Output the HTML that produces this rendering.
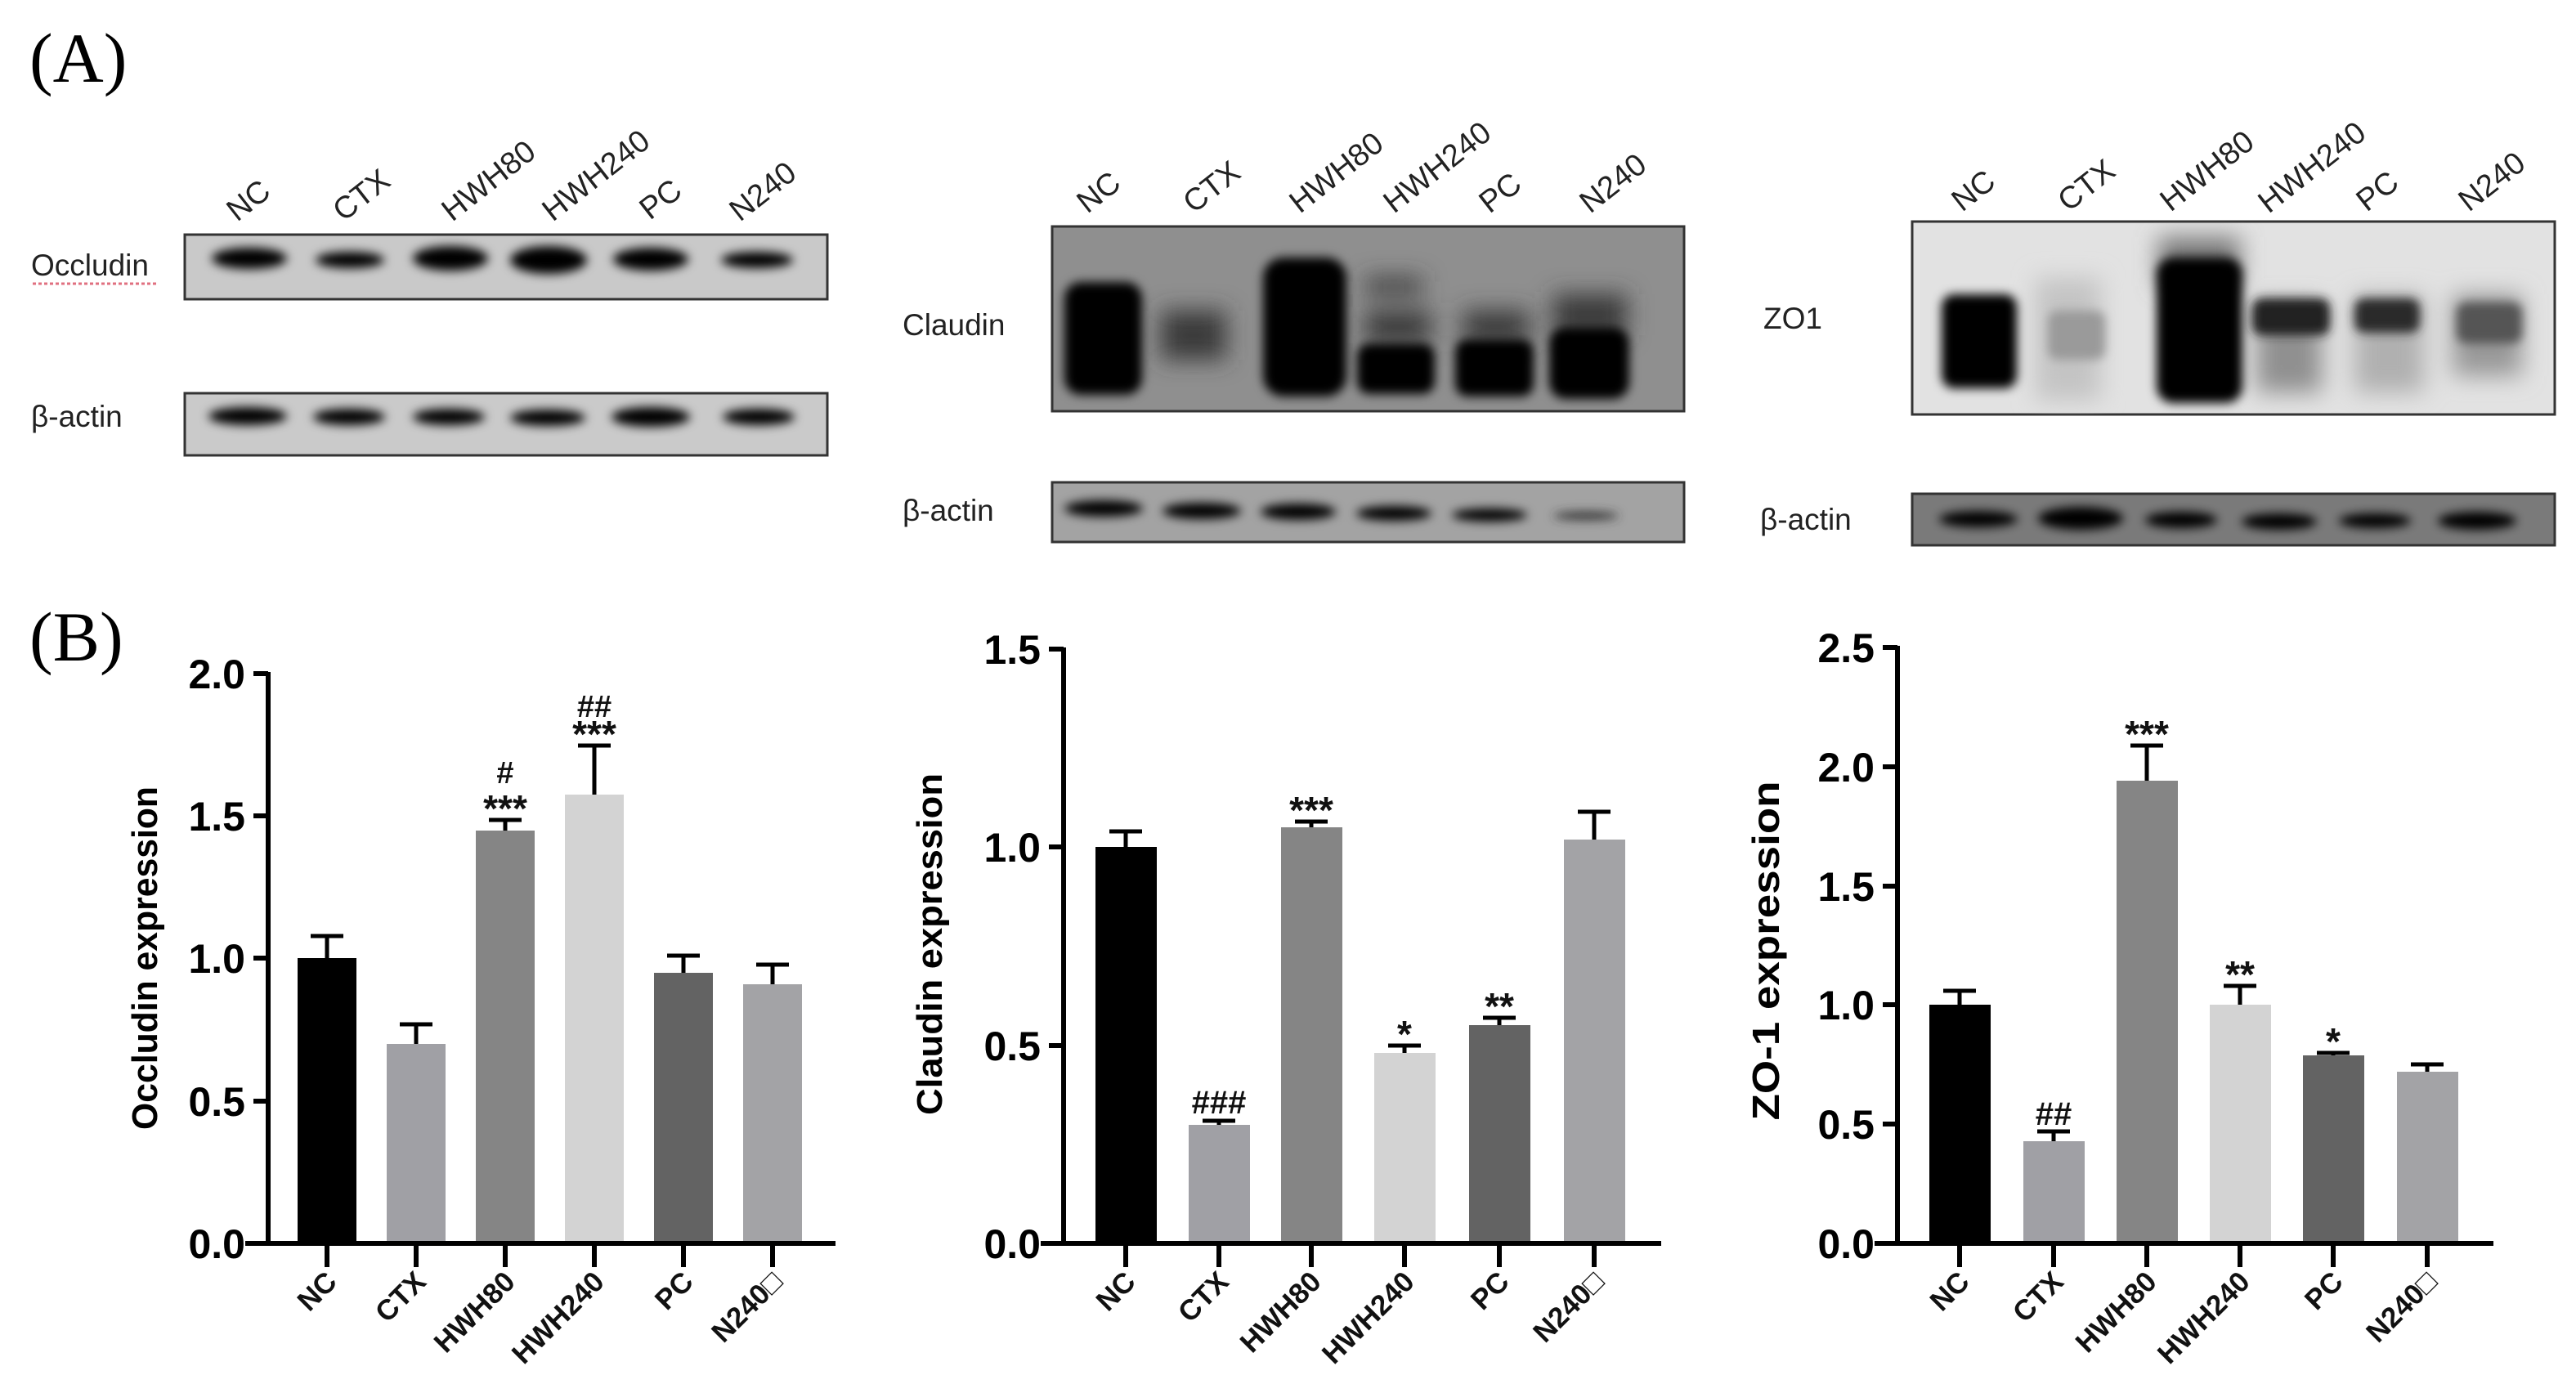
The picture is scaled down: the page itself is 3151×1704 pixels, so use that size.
<!DOCTYPE html>
<html><head><meta charset="utf-8"><style>
html,body{margin:0;padding:0;background:#fff;}
svg{display:block;}
.s{font-family:"Liberation Sans",Arial,sans-serif;}
.b{font-weight:bold;}
.serif{font-family:"Liberation Serif","Times New Roman",serif;}
</style></head><body>
<svg width="3151" height="1704" viewBox="0 0 3151 1704" xmlns="http://www.w3.org/2000/svg">
<defs>
<filter id="bl" x="-50%" y="-50%" width="200%" height="200%"><feGaussianBlur stdDeviation="6"/></filter>
<filter id="bl2" x="-50%" y="-50%" width="200%" height="200%"><feGaussianBlur stdDeviation="14"/></filter>
<clipPath id="c1"><rect x="226" y="287" width="786" height="79"/></clipPath>
<clipPath id="c2"><rect x="226" y="481" width="786" height="76"/></clipPath>
<clipPath id="c3"><rect x="1287" y="277" width="773" height="226"/></clipPath>
<clipPath id="c4"><rect x="1287" y="590" width="773" height="73"/></clipPath>
<clipPath id="c5"><rect x="2339" y="271" width="786" height="236"/></clipPath>
<clipPath id="c6"><rect x="2339" y="604" width="786" height="63"/></clipPath>
</defs>
<rect width="3151" height="1704" fill="#fff"/>

<text class="serif" x="36" y="100" font-size="86">(A)</text>
<text class="serif" x="36" y="808" font-size="86">(B)</text>

<g class="s">
<!-- ===== Blot 1 ===== -->
<g font-size="38" fill="#222">
<text transform="translate(290,272) rotate(-38)">NC</text>
<text transform="translate(420,272) rotate(-38)">CTX</text>
<text transform="translate(553,272) rotate(-38)">HWH80</text>
<text transform="translate(676,272) rotate(-38)">HWH240</text>
<text transform="translate(795,270) rotate(-38)">PC</text>
<text transform="translate(905,272) rotate(-38)">N240</text>
</g>
<text x="38" y="337" font-size="37" fill="#222">Occludin</text>
<line x1="40" y1="347" x2="193" y2="347" stroke="#e07080" stroke-width="3" stroke-dasharray="4,3"/>
<text x="38" y="522" font-size="37" fill="#222">β-actin</text>
<rect x="226" y="287" width="786" height="79" fill="#c9c9c9" stroke="#333" stroke-width="3"/>
<g clip-path="url(#c1)" filter="url(#bl)" fill="#050505">
<ellipse cx="305" cy="316" rx="46" ry="13"/>
<ellipse cx="428" cy="318" rx="42" ry="10"/>
<ellipse cx="551" cy="316" rx="46" ry="15"/>
<ellipse cx="671" cy="318" rx="47" ry="17"/>
<ellipse cx="796" cy="317" rx="46" ry="14"/>
<ellipse cx="926" cy="318" rx="44" ry="10"/>
</g>
<rect x="226" y="481" width="786" height="76" fill="#cacaca" stroke="#333" stroke-width="3"/>
<g clip-path="url(#c2)" filter="url(#bl)" fill="#050505">
<ellipse cx="303" cy="509" rx="48" ry="11"/>
<ellipse cx="427" cy="510" rx="44" ry="10"/>
<ellipse cx="549" cy="510" rx="44" ry="10"/>
<ellipse cx="670" cy="511" rx="46" ry="10"/>
<ellipse cx="796" cy="510" rx="48" ry="12"/>
<ellipse cx="928" cy="510" rx="44" ry="10"/>
</g>

<!-- ===== Blot 2 ===== -->
<g font-size="38" fill="#222">
<text transform="translate(1330,262) rotate(-38)">NC</text>
<text transform="translate(1460,262) rotate(-38)">CTX</text>
<text transform="translate(1590,262) rotate(-38)">HWH80</text>
<text transform="translate(1705,262) rotate(-38)">HWH240</text>
<text transform="translate(1822,262) rotate(-38)">PC</text>
<text transform="translate(1945,262) rotate(-38)">N240</text>
</g>
<text x="1104" y="410" font-size="37" fill="#222">Claudin</text>
<text x="1104" y="637" font-size="37" fill="#222">β-actin</text>
<rect x="1287" y="277" width="773" height="226" fill="#8f8f8f" stroke="#333" stroke-width="3"/>
<g clip-path="url(#c3)" filter="url(#bl2)" fill="#3a3a3a">
<rect x="1420" y="380" width="80" height="60"/>
<rect x="1670" y="380" width="80" height="40"/>
<rect x="1790" y="380" width="80" height="40"/>
<rect x="1900" y="360" width="90" height="50"/>
<rect x="1670" y="340" width="70" height="20"/>
</g>
<g clip-path="url(#c3)" filter="url(#bl)" fill="#030303">
<rect x="1302" y="345" width="95" height="138" rx="20"/>
<rect x="1545" y="315" width="102" height="170" rx="25"/>
<rect x="1660" y="420" width="95" height="62" rx="15"/>
<rect x="1780" y="415" width="96" height="70" rx="15"/>
<rect x="1895" y="400" width="98" height="88" rx="20"/>
</g>
<rect x="1287" y="590" width="773" height="73" fill="#a3a3a3" stroke="#333" stroke-width="3"/>
<g clip-path="url(#c4)" filter="url(#bl)" fill="#050505">
<ellipse cx="1350" cy="622" rx="48" ry="10"/>
<ellipse cx="1470" cy="625" rx="48" ry="10"/>
<ellipse cx="1588" cy="626" rx="46" ry="10"/>
<ellipse cx="1705" cy="628" rx="46" ry="9"/>
<ellipse cx="1822" cy="630" rx="46" ry="8"/>
<ellipse cx="1940" cy="631" rx="40" ry="5" fill="#333"/>
</g>

<!-- ===== Blot 3 ===== -->
<g font-size="38" fill="#222">
<text transform="translate(2400,260) rotate(-38)">NC</text>
<text transform="translate(2530,260) rotate(-38)">CTX</text>
<text transform="translate(2655,260) rotate(-38)">HWH80</text>
<text transform="translate(2775,262) rotate(-38)">HWH240</text>
<text transform="translate(2895,260) rotate(-38)">PC</text>
<text transform="translate(3020,260) rotate(-38)">N240</text>
</g>
<text x="2157" y="402" font-size="37" fill="#222">ZO1</text>
<text x="2153" y="648" font-size="37" fill="#222">β-actin</text>
<rect x="2339" y="271" width="786" height="236" fill="#e2e2e2" stroke="#333" stroke-width="3"/>
<g clip-path="url(#c5)" filter="url(#bl2)">
<rect x="2490" y="340" width="80" height="150" fill="#c4c4c4"/>
<rect x="2760" y="370" width="80" height="110" fill="#909090"/>
<rect x="2880" y="360" width="85" height="120" fill="#b0b0b0"/>
<rect x="3000" y="360" width="85" height="100" fill="#999"/>
<rect x="2640" y="290" width="100" height="60" fill="#777"/>
</g>
<g clip-path="url(#c5)" filter="url(#bl)">
<rect x="2375" y="360" width="92" height="115" rx="15" fill="#050505"/>
<rect x="2638" y="315" width="105" height="178" rx="20" fill="#030303"/>
<rect x="2755" y="365" width="95" height="45" rx="12" fill="#202020"/>
<rect x="2880" y="365" width="80" height="42" rx="12" fill="#2a2a2a"/>
<rect x="3005" y="370" width="80" height="50" rx="12" fill="#555"/>
<rect x="2505" y="380" width="70" height="60" rx="12" fill="#9a9a9a"/>
</g>
<rect x="2339" y="604" width="786" height="63" fill="#7a7a7a" stroke="#333" stroke-width="3"/>
<g clip-path="url(#c6)" filter="url(#bl)" fill="#050505">
<ellipse cx="2420" cy="635" rx="48" ry="10"/>
<ellipse cx="2545" cy="634" rx="52" ry="14"/>
<ellipse cx="2668" cy="636" rx="44" ry="10"/>
<ellipse cx="2788" cy="638" rx="46" ry="10"/>
<ellipse cx="2905" cy="637" rx="44" ry="9"/>
<ellipse cx="3030" cy="637" rx="48" ry="11"/>
</g>

<!-- ===== Chart 1: Occludin ===== -->
<g>
<rect x="364" y="1172" width="72" height="349" fill="#000"/>
<rect x="473" y="1277" width="72" height="244" fill="#a0a0a5"/>
<rect x="582" y="1016" width="72" height="505" fill="#858585"/>
<rect x="691" y="972" width="72" height="549" fill="#d3d3d3"/>
<rect x="800" y="1190" width="72" height="331" fill="#636363"/>
<rect x="909" y="1204" width="72" height="317" fill="#a3a3a6"/>
<g stroke="#000" stroke-width="5" fill="none">
<path d="M400 1172V1145M380 1145H420"/>
<path d="M509 1277V1253M489 1253H529"/>
<path d="M618 1016V1003M598 1003H638"/>
<path d="M727 972V912M707 912H747"/>
<path d="M836 1190V1169M816 1169H856"/>
<path d="M945 1204V1180M925 1180H965"/>
</g>
<g class="b" text-anchor="middle" fill="#111">
<text x="618" y="1005" font-size="46">***</text>
<text x="618" y="958" font-size="38">#</text>
<text x="727" y="914" font-size="46">***</text>
<text x="727" y="877" font-size="38">##</text>
</g>
<g stroke="#000" stroke-width="6" fill="none">
<path d="M328 822V1521M300 1521H1022"/>
<path d="M310 824H328M310 998H328M310 1172H328M310 1347H328"/>
<path d="M400 1521V1550M509 1521V1550M618 1521V1550M727 1521V1550M836 1521V1550M945 1521V1550"/>
</g>
<g class="b" font-size="50" text-anchor="end" fill="#000">
<text x="300" y="842">2.0</text><text x="300" y="1016">1.5</text><text x="300" y="1190">1.0</text><text x="300" y="1365">0.5</text><text x="300" y="1539">0.0</text>
</g>
<text class="b" font-size="44" text-anchor="middle" textLength="420" lengthAdjust="spacingAndGlyphs" transform="translate(192,1172) rotate(-90)">Occludin expression</text>
<g class="b" font-size="35" text-anchor="end" fill="#111">
<text transform="translate(414,1570) rotate(-45)">NC</text>
<text transform="translate(523,1570) rotate(-45)">CTX</text>
<text transform="translate(632,1570) rotate(-45)">HWH80</text>
<text transform="translate(741,1570) rotate(-45)">HWH240</text>
<text transform="translate(850,1570) rotate(-45)">PC</text>
<text transform="translate(959,1570) rotate(-45)">N240□</text>
</g>
</g>

<!-- ===== Chart 2: Claudin ===== -->
<g>
<rect x="1340" y="1036" width="75" height="485" fill="#000"/>
<rect x="1454" y="1376" width="75" height="145" fill="#a0a0a5"/>
<rect x="1567" y="1012" width="75" height="509" fill="#858585"/>
<rect x="1681" y="1288" width="75" height="233" fill="#d3d3d3"/>
<rect x="1797" y="1254" width="75" height="267" fill="#636363"/>
<rect x="1913" y="1027" width="75" height="494" fill="#a3a3a6"/>
<g stroke="#000" stroke-width="5" fill="none">
<path d="M1377 1036V1017M1357 1017H1397"/>
<path d="M1491 1376V1371M1471 1371H1511"/>
<path d="M1604 1012V1005M1584 1005H1624"/>
<path d="M1718 1288V1279M1698 1279H1738"/>
<path d="M1834 1254V1245M1814 1245H1854"/>
<path d="M1950 1027V993M1930 993H1970"/>
</g>
<g class="b" text-anchor="middle" fill="#111">
<text x="1491" y="1362" font-size="40">###</text>
<text x="1604" y="1007" font-size="46">***</text>
<text x="1718" y="1281" font-size="46">*</text>
<text x="1834" y="1247" font-size="46">**</text>
</g>
<g stroke="#000" stroke-width="6" fill="none">
<path d="M1301 792V1521M1273 1521H2032"/>
<path d="M1283 794H1301M1283 1036H1301M1283 1279H1301"/>
<path d="M1377 1521V1550M1491 1521V1550M1604 1521V1550M1718 1521V1550M1834 1521V1550M1950 1521V1550"/>
</g>
<g class="b" font-size="50" text-anchor="end" fill="#000">
<text x="1273" y="812">1.5</text><text x="1273" y="1054">1.0</text><text x="1273" y="1297">0.5</text><text x="1273" y="1539">0.0</text>
</g>
<text class="b" font-size="44" text-anchor="middle" textLength="418" lengthAdjust="spacingAndGlyphs" transform="translate(1152,1155) rotate(-90)">Claudin expression</text>
<g class="b" font-size="35" text-anchor="end" fill="#111">
<text transform="translate(1391,1570) rotate(-45)">NC</text>
<text transform="translate(1505,1570) rotate(-45)">CTX</text>
<text transform="translate(1618,1570) rotate(-45)">HWH80</text>
<text transform="translate(1732,1570) rotate(-45)">HWH240</text>
<text transform="translate(1848,1570) rotate(-45)">PC</text>
<text transform="translate(1964,1570) rotate(-45)">N240□</text>
</g>
</g>

<!-- ===== Chart 3: ZO-1 ===== -->
<g>
<rect x="2360" y="1229" width="75" height="292" fill="#000"/>
<rect x="2475" y="1396" width="75" height="125" fill="#a0a0a5"/>
<rect x="2589" y="955" width="75" height="566" fill="#858585"/>
<rect x="2703" y="1229" width="75" height="292" fill="#d3d3d3"/>
<rect x="2817" y="1291" width="75" height="230" fill="#636363"/>
<rect x="2932" y="1311" width="75" height="210" fill="#a3a3a6"/>
<g stroke="#000" stroke-width="5" fill="none">
<path d="M2397 1229V1212M2377 1212H2417"/>
<path d="M2512 1396V1384M2492 1384H2532"/>
<path d="M2626 955V912M2606 912H2646"/>
<path d="M2740 1229V1206M2720 1206H2760"/>
<path d="M2854 1291V1288M2834 1288H2874"/>
<path d="M2969 1311V1302M2949 1302H2989"/>
</g>
<g class="b" text-anchor="middle" fill="#111">
<text x="2512" y="1376" font-size="40">##</text>
<text x="2626" y="914" font-size="46">***</text>
<text x="2740" y="1208" font-size="46">**</text>
<text x="2854" y="1290" font-size="46">*</text>
</g>
<g stroke="#000" stroke-width="6" fill="none">
<path d="M2321 790V1521M2293 1521H3050"/>
<path d="M2303 792H2321M2303 938H2321M2303 1084H2321M2303 1229H2321M2303 1375H2321"/>
<path d="M2397 1521V1550M2512 1521V1550M2626 1521V1550M2740 1521V1550M2854 1521V1550M2969 1521V1550"/>
</g>
<g class="b" font-size="50" text-anchor="end" fill="#000">
<text x="2293" y="810">2.5</text><text x="2293" y="956">2.0</text><text x="2293" y="1102">1.5</text><text x="2293" y="1247">1.0</text><text x="2293" y="1393">0.5</text><text x="2293" y="1539">0.0</text>
</g>
<text class="b" font-size="46" text-anchor="middle" textLength="415" lengthAdjust="spacingAndGlyphs" transform="translate(2176,1163) rotate(-90)">ZO-1 expression</text>
<g class="b" font-size="35" text-anchor="end" fill="#111">
<text transform="translate(2411,1570) rotate(-45)">NC</text>
<text transform="translate(2526,1570) rotate(-45)">CTX</text>
<text transform="translate(2640,1570) rotate(-45)">HWH80</text>
<text transform="translate(2754,1570) rotate(-45)">HWH240</text>
<text transform="translate(2868,1570) rotate(-45)">PC</text>
<text transform="translate(2983,1570) rotate(-45)">N240□</text>
</g>
</g>
</g>
</svg>
</body></html>
